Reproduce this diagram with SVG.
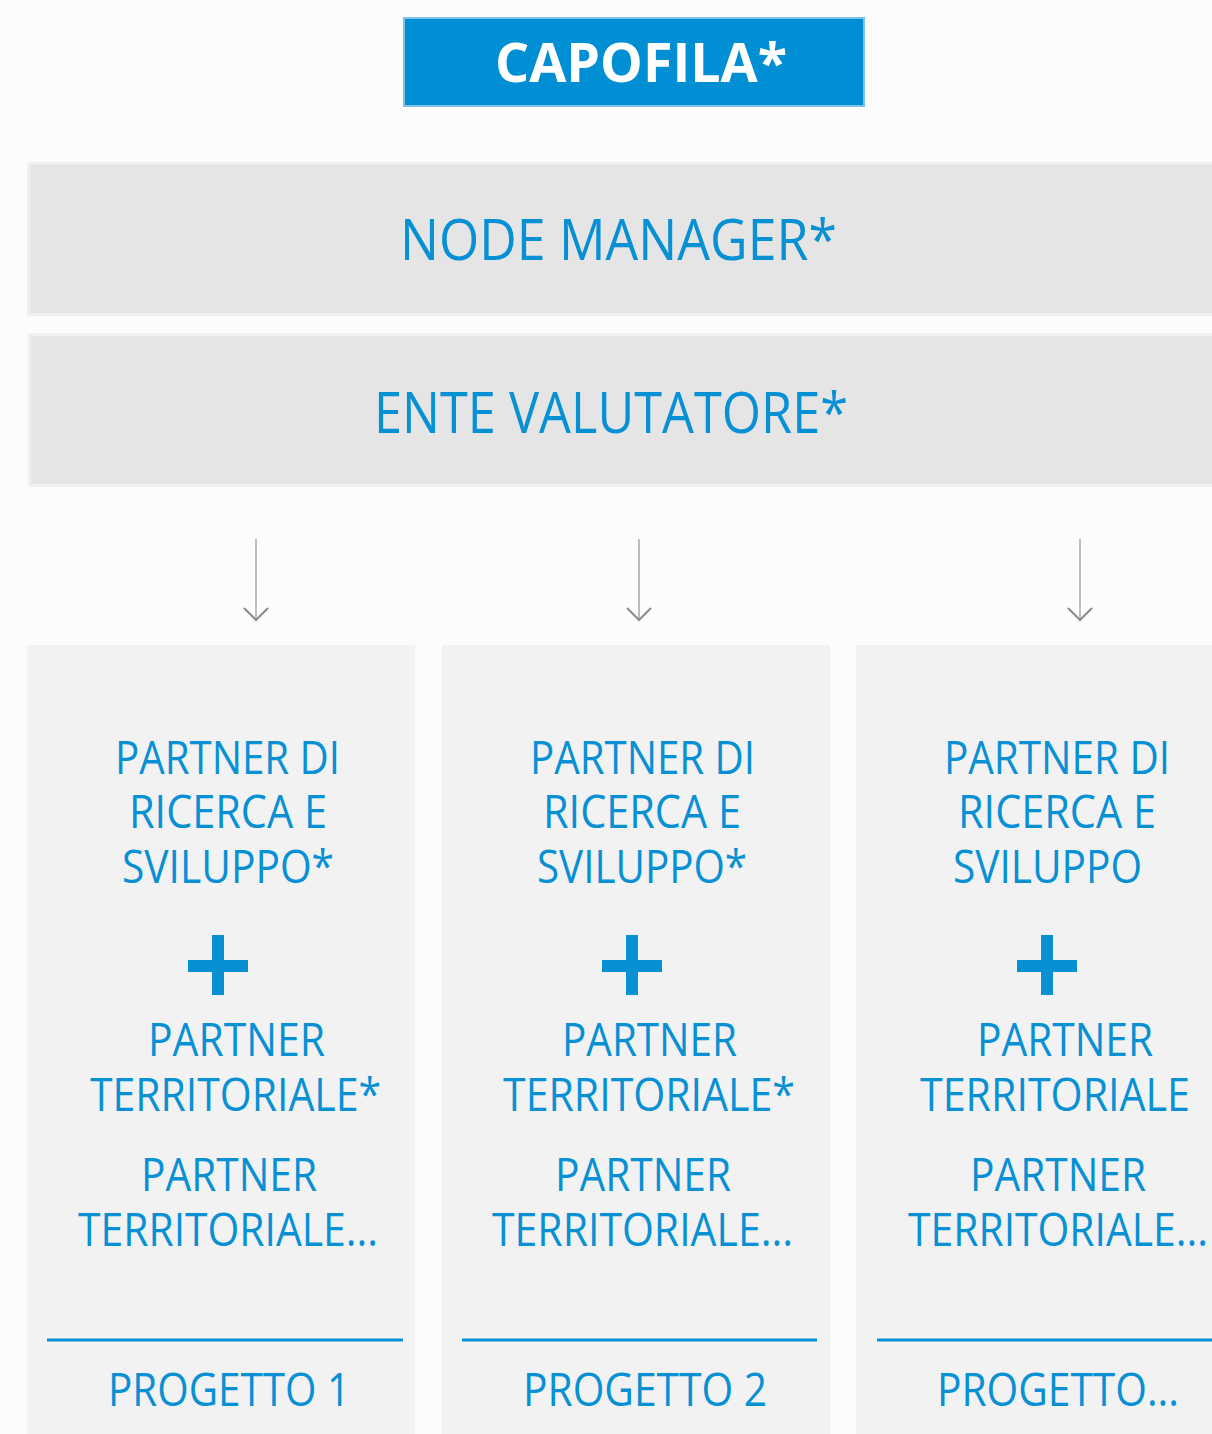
<svg xmlns="http://www.w3.org/2000/svg" width="1212" height="1434" viewBox="0 0 1212 1434">
<style>
.t{font-family:"Open Sans","Noto Sans",sans-serif;fill:#0890d5}
.c{font-size:46px}
.h{font-size:57px}
.sep{stroke:#0890d5;stroke-width:3}
.plus{fill:#0890d5}
.col{fill:#f2f2f2}
.band{fill:#e5e5e5;stroke:#f0f0f0;stroke-width:3}
.arr{stroke:#bdbdbd;stroke-width:2;fill:none}
.ah{stroke:#8c8c8c;stroke-width:2;fill:none}
</style>
<rect width="1212" height="1434" fill="#fcfcfc"/>
<g id="capofila">
<rect x="404" y="18" width="460" height="88" fill="#008fd5" stroke="#7cc2ea" stroke-width="2"/>
<text x="495" y="82" font-family="'Open Sans','Noto Sans',sans-serif" font-weight="bold" font-size="54" fill="#ffffff" textLength="292" lengthAdjust="spacingAndGlyphs">CAPOFILA*</text>
</g>
<g id="node-manager">
<rect class="band" x="28.5" y="163.5" width="1190" height="151"/>
<text class="t h" x="400" y="260" textLength="437" lengthAdjust="spacingAndGlyphs">NODE MANAGER*</text>
</g>
<g id="ente-valutatore">
<rect class="band" x="29.5" y="334.5" width="1190" height="151"/>
<text class="t h" x="374" y="433" textLength="474" lengthAdjust="spacingAndGlyphs">ENTE VALUTATORE*</text>
</g>
<g id="connectors">
<line class="arr" x1="256" y1="539" x2="256" y2="619"/>
<polyline class="ah" points="244,608 256,620 268,608"/>
<line class="arr" x1="639" y1="539" x2="639" y2="619"/>
<polyline class="ah" points="627,608 639,620 651,608"/>
<line class="arr" x1="1080" y1="539" x2="1080" y2="619"/>
<polyline class="ah" points="1068,608 1080,620 1092,608"/>
</g>
<g id="progetto-1">
<rect class="col" x="27" y="645" width="388" height="789"/>
<text class="t c" x="115" y="774" textLength="225" lengthAdjust="spacingAndGlyphs">PARTNER DI</text>
<text class="t c" x="129" y="828" textLength="198" lengthAdjust="spacingAndGlyphs">RICERCA E</text>
<text class="t c" x="122" y="883" textLength="212" lengthAdjust="spacingAndGlyphs">SVILUPPO*</text>
<rect class="plus" x="212" y="935" width="12" height="60"/>
<rect class="plus" x="188" y="960" width="60" height="12"/>
<text class="t c" x="148" y="1056" textLength="177" lengthAdjust="spacingAndGlyphs">PARTNER</text>
<text class="t c" x="90" y="1111" textLength="291" lengthAdjust="spacingAndGlyphs">TERRITORIALE*</text>
<text class="t c" x="141" y="1191" textLength="176" lengthAdjust="spacingAndGlyphs">PARTNER</text>
<text class="t c" x="78" y="1246" textLength="300" lengthAdjust="spacingAndGlyphs">TERRITORIALE...</text>
<line class="sep" x1="47" y1="1340" x2="403" y2="1340"/>
<text class="t c" x="108" y="1406" textLength="242" lengthAdjust="spacingAndGlyphs">PROGETTO 1</text>
</g>
<g id="progetto-2">
<rect class="col" x="442" y="645" width="388" height="789"/>
<text class="t c" x="530" y="774" textLength="225" lengthAdjust="spacingAndGlyphs">PARTNER DI</text>
<text class="t c" x="543" y="828" textLength="198" lengthAdjust="spacingAndGlyphs">RICERCA E</text>
<text class="t c" x="537" y="883" textLength="210" lengthAdjust="spacingAndGlyphs">SVILUPPO*</text>
<rect class="plus" x="626" y="935" width="12" height="60"/>
<rect class="plus" x="602" y="960" width="60" height="12"/>
<text class="t c" x="562" y="1056" textLength="175" lengthAdjust="spacingAndGlyphs">PARTNER</text>
<text class="t c" x="503" y="1111" textLength="292" lengthAdjust="spacingAndGlyphs">TERRITORIALE*</text>
<text class="t c" x="555" y="1191" textLength="176" lengthAdjust="spacingAndGlyphs">PARTNER</text>
<text class="t c" x="492" y="1246" textLength="301" lengthAdjust="spacingAndGlyphs">TERRITORIALE...</text>
<line class="sep" x1="462" y1="1340" x2="817" y2="1340"/>
<text class="t c" x="523" y="1406" textLength="244" lengthAdjust="spacingAndGlyphs">PROGETTO 2</text>
</g>
<g id="progetto-n">
<rect class="col" x="856" y="645" width="356" height="789"/>
<text class="t c" x="944" y="774" textLength="226" lengthAdjust="spacingAndGlyphs">PARTNER DI</text>
<text class="t c" x="958" y="828" textLength="198" lengthAdjust="spacingAndGlyphs">RICERCA E</text>
<text class="t c" x="953" y="883" textLength="189" lengthAdjust="spacingAndGlyphs">SVILUPPO</text>
<rect class="plus" x="1041" y="935" width="12" height="60"/>
<rect class="plus" x="1017" y="960" width="60" height="12"/>
<text class="t c" x="977" y="1056" textLength="176" lengthAdjust="spacingAndGlyphs">PARTNER</text>
<text class="t c" x="920" y="1111" textLength="270" lengthAdjust="spacingAndGlyphs">TERRITORIALE</text>
<text class="t c" x="970" y="1191" textLength="176" lengthAdjust="spacingAndGlyphs">PARTNER</text>
<text class="t c" x="908" y="1246" textLength="300" lengthAdjust="spacingAndGlyphs">TERRITORIALE...</text>
<line class="sep" x1="877" y1="1340" x2="1212" y2="1340"/>
<text class="t c" x="937" y="1406" textLength="242" lengthAdjust="spacingAndGlyphs">PROGETTO...</text>
</g>
</svg>
